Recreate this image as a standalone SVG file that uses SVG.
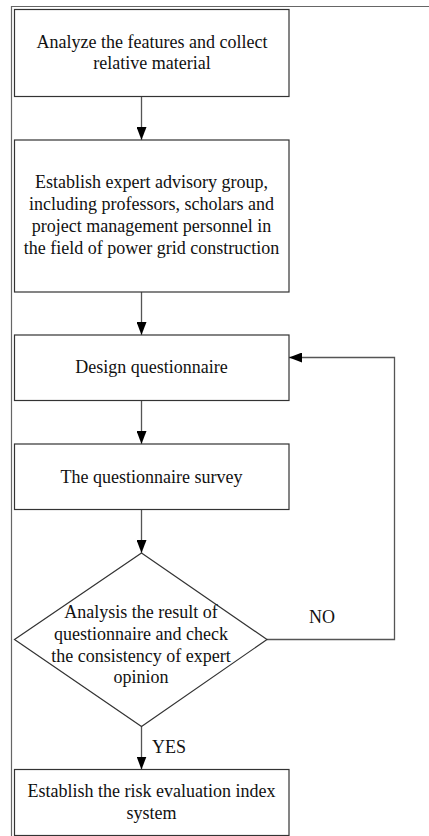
<svg xmlns="http://www.w3.org/2000/svg" width="429" height="836" viewBox="0 0 429 836">
<defs>
<style>
.box{fill:#fff;stroke:#333;stroke-width:1.2}
.t{font-family:"Liberation Serif","Times New Roman",serif;font-size:18px;fill:#111;text-anchor:middle}
.lbl{font-family:"Liberation Serif","Times New Roman",serif;font-size:18px;fill:#111}
.c{fill:none;stroke:#555;stroke-width:1.3}
</style>
<marker id="ah" viewBox="0 0 13 10" refX="13" refY="5" markerWidth="13" markerHeight="10" markerUnits="userSpaceOnUse" orient="auto">
<path d="M0,0 L13,5 L0,10 Z" fill="#000"/>
</marker>
</defs>
<rect width="429" height="836" fill="#fff"/>
<g id="frame">
<path d="M429,6.5 H11.5 V836" fill="none" stroke="#666" stroke-width="1.2"/>
</g>
<g id="connectors">
<line class="c" x1="141.5" y1="96.5" x2="141.5" y2="140" marker-end="url(#ah)"/>
<line class="c" x1="141.5" y1="292" x2="141.5" y2="335" marker-end="url(#ah)"/>
<line class="c" x1="141.5" y1="400.5" x2="141.5" y2="444" marker-end="url(#ah)"/>
<line class="c" x1="141.5" y1="509.5" x2="141.5" y2="553" marker-end="url(#ah)"/>
<line class="c" x1="141.5" y1="726.5" x2="141.5" y2="769.5" marker-end="url(#ah)"/>
<path class="c" d="M267,639.5 H394.5 V357.5 H289" marker-end="url(#ah)"/>
<text class="lbl" x="309" y="623">NO</text>
<text class="lbl" x="152" y="753">YES</text>
</g>
<g id="n1">
<rect class="box" x="14.5" y="9.5" width="274.5" height="87"/>
<text class="t" x="152" y="47.5">Analyze the features and collect</text>
<text class="t" x="152" y="69">relative material</text>
</g>
<g id="n2">
<rect class="box" x="14.5" y="140" width="274.5" height="152"/>
<text class="t" x="151.5" y="188">Establish expert advisory group,</text>
<text class="t" x="151.5" y="210">including professors, scholars and</text>
<text class="t" x="151.5" y="232">project management personnel in</text>
<text class="t" x="151.5" y="254">the field of power grid construction</text>
</g>
<g id="n3">
<rect class="box" x="14.5" y="335" width="274.5" height="65.5"/>
<text class="t" x="151.5" y="373">Design questionnaire</text>
</g>
<g id="n4">
<rect class="box" x="14.5" y="444" width="274.5" height="65.5"/>
<text class="t" x="151.5" y="483">The questionnaire survey</text>
</g>
<g id="n5">
<path class="box" d="M141.5,553 L267,639.5 L141.5,726.5 L14.5,639.5 Z" stroke-width="1"/>
<text class="t" x="141" y="618">Analysis the result of</text>
<text class="t" x="141" y="640">questionnaire and check</text>
<text class="t" x="141" y="661.5">the consistency of expert</text>
<text class="t" x="141" y="683">opinion</text>
</g>
<g id="n6">
<rect class="box" x="14.5" y="769.5" width="274.5" height="66"/>
<text class="t" x="151.5" y="797">Establish the risk evaluation index</text>
<text class="t" x="151.5" y="818.5">system</text>
</g>
</svg>
